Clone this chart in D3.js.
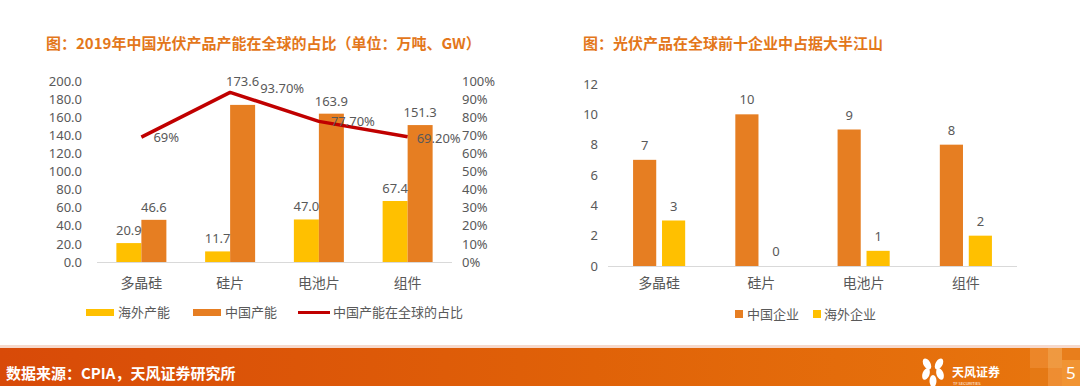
<!DOCTYPE html>
<html>
<head>
<meta charset="utf-8">
<script src="https://cdn.jsdelivr.net/npm/d3@7/dist/d3.min.js"></script>
<style>
  html, body { margin: 0; padding: 0; background: #fff; }
  svg { display: block; font-family: "Noto Sans CJK SC", "Noto Sans", sans-serif; }
</style>
</head>
<body>
<svg id="chart" width="1080" height="386"></svg>
<script>
// 数据
var categories = ['多晶硅', '硅片', '电池片', '组件'];
var overseasCap = [20.9, 11.7, 47.0, 67.4];      // 海外产能
var chinaCap = [46.6, 173.6, 163.9, 151.3];      // 中国产能
var chinaShare = [0.69, 0.937, 0.777, 0.692];    // 中国产能在全球的占比
var shareLabels = ['69%', '93.70%', '77.70%', '69.20%'];
var leftTicks = [0, 20, 40, 60, 80, 100, 120, 140, 160, 180, 200];
var rightTicks = [0, 0.1, 0.2, 0.3, 0.4, 0.5, 0.6, 0.7, 0.8, 0.9, 1.0];

var chinaFirms = [7, 10, 9, 8];     // 中国企业
var overseasFirms = [3, 0, 1, 2];   // 海外企业
var firmTicks = [0, 2, 4, 6, 8, 10, 12];

var YELLOW = '#FFC000', ORANGE = '#E67E22', RED = '#C00000',
    GREY = '#595959', AXIS = '#D9D9D9', TITLE = '#E3771B';

var svg = d3.select('#chart');

// ---------- 左图 ----------
var L = svg.append('g');
L.append('text').attr('x', 46).attr('y', 49)
  .attr('fill', TITLE).attr('font-size', 15).attr('font-weight', 'bold')
  .text('图：2019年中国光伏产品产能在全球的占比（单位：万吨、GW）');

var xL = d3.scaleBand().domain(categories).range([97, 452]);
var xLin = d3.scaleBand().domain(['overseas', 'china']).range([0, xL.bandwidth()])
  .paddingInner(0).paddingOuter(0.775);
var yL = d3.scaleLinear().domain([0, 200]).range([262, 81]);
var yR = d3.scaleLinear().domain([0, 1]).range([262, 81]);

// 左轴
L.append('g').attr('transform', 'translate(82,0)')
  .call(d3.axisLeft(yL).tickValues(leftTicks).tickSize(0).tickPadding(0).tickFormat(d3.format('.1f')))
  .call(function (g) { g.select('.domain').remove(); })
  .selectAll('text').attr('fill', GREY).attr('font-size', 13).attr('font-family', 'Noto Sans, sans-serif');

// 右轴
L.append('g').attr('transform', 'translate(462,0)')
  .call(d3.axisRight(yR).tickValues(rightTicks).tickSize(0).tickPadding(0).tickFormat(d3.format('.0%')))
  .call(function (g) { g.select('.domain').remove(); })
  .selectAll('text').attr('fill', GREY).attr('font-size', 13).attr('font-family', 'Noto Sans, sans-serif');

// 柱子
var groupsL = L.selectAll('.grp').data(categories).enter().append('g')
  .attr('transform', function (d) { return 'translate(' + xL(d) + ',0)'; });

groupsL.append('rect')
  .attr('x', xLin('overseas')).attr('width', xLin.bandwidth())
  .attr('y', function (d, i) { return yL(overseasCap[i]); })
  .attr('height', function (d, i) { return yL(0) - yL(overseasCap[i]); })
  .attr('fill', YELLOW);
groupsL.append('rect')
  .attr('x', xLin('china')).attr('width', xLin.bandwidth())
  .attr('y', function (d, i) { return yL(chinaCap[i]); })
  .attr('height', function (d, i) { return yL(0) - yL(chinaCap[i]); })
  .attr('fill', ORANGE);

groupsL.append('text')
  .attr('x', xLin('overseas') + xLin.bandwidth() / 2)
  .attr('y', function (d, i) { return yL(overseasCap[i]) - 8; })
  .attr('text-anchor', 'middle').attr('fill', GREY).attr('font-size', 13)
  .attr('font-family', 'Noto Sans, sans-serif')
  .text(function (d, i) { return overseasCap[i].toFixed(1); });
groupsL.append('text')
  .attr('x', xLin('china') + xLin.bandwidth() / 2)
  .attr('y', function (d, i) {
    var yb = yL(chinaCap[i]) - 8, yl = yR(chinaShare[i]);
    // 与折线贴得太近时把数字抬到线的上方
    return Math.abs(yL(chinaCap[i]) - yl) < 20 ? Math.min(yb, yl - 6) : yb;
  })
  .attr('text-anchor', 'middle').attr('fill', GREY).attr('font-size', 13)
  .attr('font-family', 'Noto Sans, sans-serif')
  .text(function (d, i) { return chinaCap[i].toFixed(1); });

// 基线
L.append('line').attr('x1', 97).attr('x2', 452).attr('y1', 262.5).attr('y2', 262.5)
  .attr('stroke', AXIS).attr('stroke-width', 1);

// X 轴标签
L.selectAll('.xl').data(categories).enter().append('text')
  .attr('x', function (d) { return xL(d) + xL.bandwidth() / 2; })
  .attr('y', 288).attr('text-anchor', 'middle')
  .attr('fill', GREY).attr('font-size', 14).text(function (d) { return d; });

// 折线
var line = d3.line()
  .x(function (d, i) { return xL(categories[i]) + xL.bandwidth() / 2; })
  .y(function (d) { return yR(d); });
L.append('path').datum(chinaShare).attr('d', line)
  .attr('fill', 'none').attr('stroke', RED).attr('stroke-width', 3.5)
  .attr('stroke-linejoin', 'round');

// 百分比标签（避让柱顶数字）
var nudge = [[12, 5], [30, 1], [12, 5], [9, 6]];
L.selectAll('.pl').data(chinaShare).enter().append('text')
  .attr('x', function (d, i) { return xL(categories[i]) + xL.bandwidth() / 2 + nudge[i][0]; })
  .attr('y', function (d, i) { return yR(d) + nudge[i][1]; })
  .attr('fill', GREY).attr('font-size', 13).attr('font-family', 'Noto Sans, sans-serif')
  .text(function (d, i) { return shareLabels[i]; });

// 图例
var legL = L.append('g').attr('transform', 'translate(0,312)');
legL.append('rect').attr('x', 86).attr('y', -3).attr('width', 28).attr('height', 7).attr('fill', YELLOW);
legL.append('text').attr('x', 118).attr('y', 5).attr('fill', GREY).attr('font-size', 13).text('海外产能');
legL.append('rect').attr('x', 193).attr('y', -3).attr('width', 28).attr('height', 7).attr('fill', ORANGE);
legL.append('text').attr('x', 225).attr('y', 5).attr('fill', GREY).attr('font-size', 13).text('中国产能');
legL.append('line').attr('x1', 298).attr('x2', 330).attr('y1', 0.5).attr('y2', 0.5)
  .attr('stroke', RED).attr('stroke-width', 3);
legL.append('text').attr('x', 333).attr('y', 5).attr('fill', GREY).attr('font-size', 13).text('中国产能在全球的占比');

// ---------- 右图 ----------
var R = svg.append('g');
R.append('text').attr('x', 583).attr('y', 49)
  .attr('fill', TITLE).attr('font-size', 15).attr('font-weight', 'bold')
  .text('图：光伏产品在全球前十企业中占据大半江山');

var xF = d3.scaleBand().domain(categories).range([608, 1017]);
var xFin = d3.scaleBand().domain(['china', 'overseas']).range([0, xF.bandwidth()])
  .paddingInner(0.2).paddingOuter(0.866);
var yF = d3.scaleLinear().domain([0, 12]).range([266, 84]);

R.append('g').attr('transform', 'translate(598,0)')
  .call(d3.axisLeft(yF).tickValues(firmTicks).tickSize(0).tickPadding(0))
  .call(function (g) { g.select('.domain').remove(); })
  .selectAll('text').attr('fill', GREY).attr('font-size', 13).attr('font-family', 'Noto Sans, sans-serif');

var groupsR = R.selectAll('.grp').data(categories).enter().append('g')
  .attr('transform', function (d) { return 'translate(' + xF(d) + ',0)'; });

groupsR.append('rect')
  .attr('x', xFin('china')).attr('width', xFin.bandwidth())
  .attr('y', function (d, i) { return yF(chinaFirms[i]); })
  .attr('height', function (d, i) { return yF(0) - yF(chinaFirms[i]); })
  .attr('fill', ORANGE);
groupsR.append('rect')
  .attr('x', xFin('overseas')).attr('width', xFin.bandwidth())
  .attr('y', function (d, i) { return yF(overseasFirms[i]); })
  .attr('height', function (d, i) { return yF(0) - yF(overseasFirms[i]); })
  .attr('fill', YELLOW);

groupsR.append('text')
  .attr('x', xFin('china') + xFin.bandwidth() / 2)
  .attr('y', function (d, i) { return yF(chinaFirms[i]) - 10; })
  .attr('text-anchor', 'middle').attr('fill', GREY).attr('font-size', 13)
  .attr('font-family', 'Noto Sans, sans-serif')
  .text(function (d, i) { return chinaFirms[i]; });
groupsR.append('text')
  .attr('x', xFin('overseas') + xFin.bandwidth() / 2)
  .attr('y', function (d, i) { return yF(overseasFirms[i]) - 10; })
  .attr('text-anchor', 'middle').attr('fill', GREY).attr('font-size', 13)
  .attr('font-family', 'Noto Sans, sans-serif')
  .text(function (d, i) { return overseasFirms[i]; });

R.append('line').attr('x1', 608).attr('x2', 1017).attr('y1', 266.5).attr('y2', 266.5)
  .attr('stroke', AXIS).attr('stroke-width', 1);

R.selectAll('.xl').data(categories).enter().append('text')
  .attr('x', function (d) { return xF(d) + xF.bandwidth() / 2; })
  .attr('y', 288).attr('text-anchor', 'middle')
  .attr('fill', GREY).attr('font-size', 14).text(function (d) { return d; });

var legR = R.append('g').attr('transform', 'translate(0,314)');
legR.append('rect').attr('x', 735).attr('y', -4).attr('width', 8).attr('height', 8).attr('fill', ORANGE);
legR.append('text').attr('x', 747).attr('y', 5).attr('fill', GREY).attr('font-size', 13).text('中国企业');
legR.append('rect').attr('x', 813).attr('y', -4).attr('width', 8).attr('height', 8).attr('fill', YELLOW);
legR.append('text').attr('x', 824).attr('y', 5).attr('fill', GREY).attr('font-size', 13).text('海外企业');

// ---------- 页脚 ----------
var defs = svg.append('defs');
var grad = defs.append('linearGradient').attr('id', 'foot').attr('x1', 0).attr('x2', 1).attr('y1', 0).attr('y2', 0);
grad.append('stop').attr('offset', '0%').attr('stop-color', '#D84A08');
grad.append('stop').attr('offset', '55%').attr('stop-color', '#E06208');
grad.append('stop').attr('offset', '100%').attr('stop-color', '#E8760E');

svg.append('rect').attr('x', 0).attr('y', 345).attr('width', 1080).attr('height', 3).attr('fill', '#F6D9CC');
svg.append('rect').attr('x', 0).attr('y', 348).attr('width', 1080).attr('height', 38).attr('fill', 'url(#foot)');

// 右下角色块
var blocks = [
  [1030, 348, 18, 20, '#EC8A2E'], [1048, 348, 14, 20, '#F0A04A'], [1062, 348, 18, 12, '#E8801E'],
  [1030, 368, 18, 18, '#E47A16'], [1048, 368, 14, 18, '#EE9238'], [1062, 360, 18, 26, '#F29A3A']
];
svg.selectAll('.blk').data(blocks).enter().append('rect')
  .attr('x', function (d) { return d[0]; }).attr('y', function (d) { return d[1]; })
  .attr('width', function (d) { return d[2]; }).attr('height', function (d) { return d[3]; })
  .attr('fill', function (d) { return d[4]; }).attr('opacity', 0.85);

svg.append('text').attr('x', 6).attr('y', 379)
  .attr('fill', '#fff').attr('font-size', 15).attr('font-weight', 'bold')
  .text('数据来源：CPIA，天风证券研究所');

// 标志
var logo = svg.append('g').attr('transform', 'translate(933,372)').attr('fill', '#fff');
[[-6, -8, -30], [6, -8, 30], [-7, 2, 20], [7, 2, -20], [0, 9, 0]].forEach(function (p) {
  logo.append('ellipse').attr('cx', p[0]).attr('cy', p[1]).attr('rx', 3.5).attr('ry', 6)
    .attr('transform', 'rotate(' + p[2] + ',' + p[0] + ',' + p[1] + ')');
});
svg.append('text').attr('x', 952).attr('y', 377).attr('fill', '#fff')
  .attr('font-size', 12).attr('font-weight', 'bold').text('天风证券');
svg.append('text').attr('x', 953).attr('y', 385).attr('fill', '#fff')
  .attr('font-size', 4).text('TF SECURITIES');
svg.append('text').attr('x', 1066).attr('y', 379).attr('fill', '#fff')
  .attr('font-size', 17).attr('font-family', 'Noto Sans, sans-serif').text('5');
</script>
</body>
</html>
